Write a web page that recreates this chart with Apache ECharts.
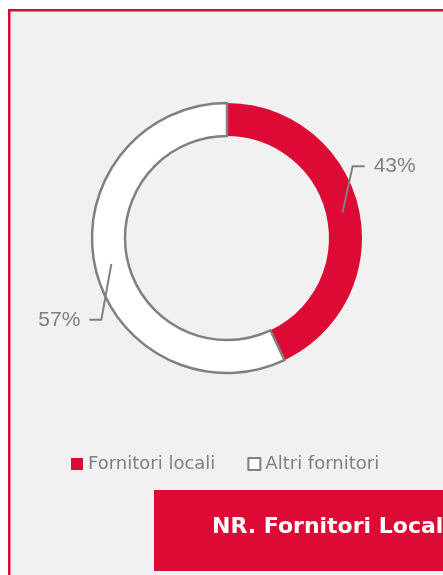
<!DOCTYPE html>
<html>
<head>
<meta charset="utf-8">
<script src="https://cdn.jsdelivr.net/npm/echarts@6/dist/echarts.min.js"></script>
<style>
  html, body { margin: 0; padding: 0; background: #fff; }
  #chart { width: 443px; height: 575px; }
</style>
</head>
<body>
<div id="chart"></div>
<script>
const categories = ["Fornitori locali", "Altri fornitori"];
const shares = [43, 57];
const title = "NR. Fornitori Locali";

const RED = "#dc0a35";
const GREY = "#808080";
const CX = 227;
const CY = 238;
const R_IN = 102;
const R_OUT = 135;

const total = shares.reduce((a, b) => a + b, 0);

// punto a metà anello, poi spezzata verso l'etichetta
const layoutLabel = (params) => {
  const i = params.dataIndex;
  let before = 0;
  for (let k = 0; k < i; k++) before += shares[k];
  const theta = ((before + shares[i] / 2) / total) * Math.PI * 2;
  const ux = Math.sin(theta);
  const uy = -Math.cos(theta);
  const rMid = (R_IN + R_OUT) / 2;
  const side = ux > 0 ? 1 : -1;
  const p1 = [CX + rMid * ux, CY + rMid * uy];
  const rise = side > 0 ? 46 : 56;
  const p2 = [p1[0] + side * 10, p1[1] - side * rise];
  const p3 = [p2[0] + side * 12, p2[1]];
  return {
    x: p3[0] + side * 9,
    y: p3[1],
    align: side > 0 ? "left" : "right",
    verticalAlign: "middle",
    labelLinePoints: [p1, p2, p3],
  };
};

const chart = echarts.init(document.getElementById("chart"), null, { renderer: "canvas" });

const pieBase = {
  type: "pie",
  center: [CX, CY],
  radius: [R_IN, R_OUT],
  startAngle: 90,
  clockwise: true,
  avoidLabelOverlap: false,
  emphasis: { disabled: true },
};

chart.setOption({
  backgroundColor: "#ffffff",
  animation: false,
  graphic: [
    {
      type: "rect",
      z: -10,
      silent: true,
      shape: { x: 9.25, y: 10.25, width: 600, height: 700 },
      style: { fill: "#f1f1f1", stroke: RED, lineWidth: 2.5 },
    },
    {
      type: "rect",
      z: 10,
      shape: { x: 154, y: 490, width: 320, height: 81 },
      style: { fill: RED },
    },
    {
      type: "text",
      z: 11,
      x: 212,
      y: 527,
      style: {
        text: title,
        fill: "#ffffff",
        font: 'bold 22px "DejaVu Sans", sans-serif',
        verticalAlign: "middle",
      },
    },
  ],
  legend: {
    data: categories,
    left: 66,
    top: 450,
    icon: "rect",
    itemWidth: 12,
    itemHeight: 12,
    itemGap: 32,
    textStyle: {
      color: "#7f7f7f",
      fontSize: 18,
      lineHeight: 18,
      fontFamily: '"DejaVu Sans", sans-serif',
      fontWeight: "normal",
    },
  },
  series: [
    Object.assign({}, pieBase, {
      name: "anello",
      z: 2,
      data: categories.map((name, i) => ({
        name: name,
        value: shares[i],
        itemStyle:
          i === 0
            ? { color: RED, borderWidth: 0 }
            : { color: "#ffffff", borderColor: GREY, borderWidth: 2.5 },
      })),
      label: { show: false },
      labelLine: { show: false },
    }),
    // stesso anello trasparente, solo per etichette sopra le fette
    Object.assign({}, pieBase, {
      name: "etichette",
      z: 5,
      silent: true,
      data: categories.map((name, i) => ({
        name: name,
        value: shares[i],
        itemStyle: { color: "rgba(0,0,0,0)", borderWidth: 0 },
      })),
      label: {
        show: true,
        position: "outside",
        formatter: (p) => p.value + "%",
        color: GREY,
        fontSize: 21,
        fontFamily: '"Liberation Sans", Arial, sans-serif',
      },
      labelLine: {
        show: true,
        lineStyle: { color: GREY, width: 2 },
      },
      labelLayout: layoutLabel,
    }),
  ],
});
</script>
</body>
</html>
